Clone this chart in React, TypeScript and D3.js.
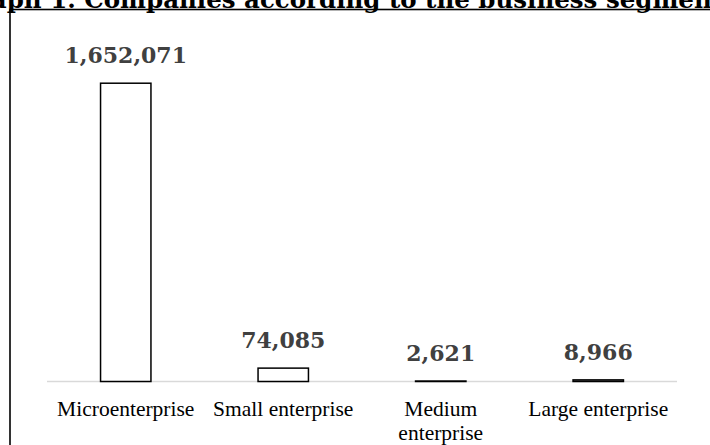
import React from "react";
import * as d3 from "d3";

const categories: string[][] = [["Microenterprise"], ["Small enterprise"], ["Medium", "enterprise"], ["Large enterprise"]];
const values: number[] = [1652071, 74085, 2621, 8966];
const title = "Graph 1. Companies according to the business segment";

const W = 710;
const H = 445;

export default function App() {
  const x = d3.scaleBand<number>().domain(d3.range(values.length)).range([47, 677]).paddingInner(0.68).paddingOuter(0.34);
  const y = d3.scaleLinear().domain([0, 1800000]).range([381.5, 56.5]);
  const fmt = d3.format(",");
  return (
    <svg width={W} height={H} style={{ position: "absolute", left: 0, top: 0, background: "#fff" }}>
      <rect x={0} y={0} width={W} height={H} fill="#fff" />
      <text x={340} y={8} textAnchor="middle" fontFamily="'DejaVu Serif', serif" fontWeight="bold" fontSize={24.5} fill="#000">{title}</text>
      <rect x={10} y={9.5} width={W + 20} height={H + 20} fill="none" stroke="#000" strokeWidth={1.6} />
      <line x1={47} x2={677} y1={381.5} y2={381.5} stroke="#d9d9d9" strokeWidth={1.5} />
      {values.map((v, i) => (
        <g key={i}>
          <rect x={x(i)} y={y(v)} width={x.bandwidth()} height={Math.max(0, y(0) - y(v))} fill="#fff" stroke="#000" strokeWidth={1.5} />
          <text x={(x(i) as number) + x.bandwidth() / 2} y={y(v) - 20} textAnchor="middle" fontFamily="'DejaVu Serif', serif" fontWeight="bold" fontSize={22} fill="#404040">{fmt(v)}</text>
          {categories[i].map((line, j) => (
            <text key={j} x={(x(i) as number) + x.bandwidth() / 2} y={416 + j * 24} textAnchor="middle" fontFamily="'Liberation Serif', serif" fontSize={21.5} fill="#000">{line}</text>
          ))}
        </g>
      ))}
    </svg>
  );
}
